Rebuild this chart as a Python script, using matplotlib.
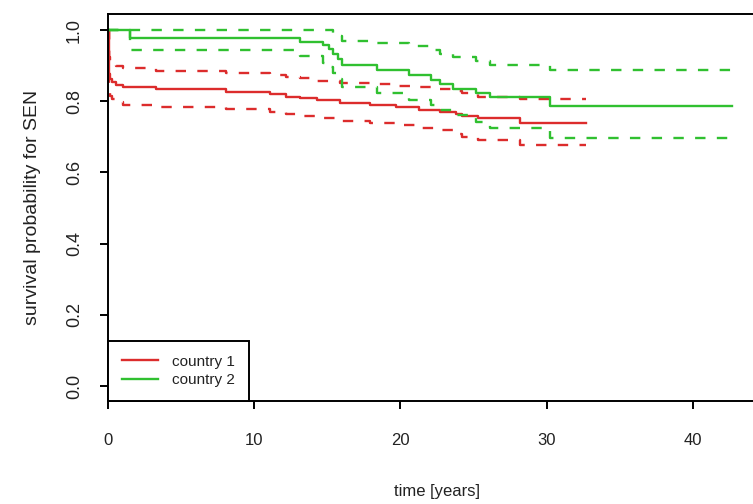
import matplotlib.pyplot as plt

plt.rcParams['font.family'] = ['Liberation Sans', 'DejaVu Sans']

# Kaplan-Meier estimate with confidence band, country 1
t_c1 = [0, 0.07, 0.15, 0.3, 0.55, 1.0, 3.3, 8.1, 11.1, 12.2, 13.1, 14.3, 15.9,
        17.9, 19.7, 21.3, 22.7, 23.8, 24.2, 25.3, 28.2]
s_c1 = [1.0, 0.876, 0.862, 0.853, 0.846, 0.839, 0.834, 0.827, 0.819, 0.813, 0.808,
        0.803, 0.796, 0.789, 0.783, 0.775, 0.771, 0.763, 0.758, 0.752, 0.740]
hi_c1 = [1.0, 0.923, 0.910, 0.904, 0.898, 0.892, 0.886, 0.880, 0.874, 0.869, 0.864,
         0.858, 0.850, 0.847, 0.844, 0.840, 0.835, 0.829, 0.822, 0.813, 0.805]
lo_c1 = [1.0, 0.830, 0.815, 0.805, 0.798, 0.789, 0.785, 0.777, 0.771, 0.765, 0.758,
         0.752, 0.745, 0.740, 0.733, 0.726, 0.718, 0.708, 0.700, 0.691, 0.677]
end_c1 = 32.7

# country 2
t_c2 = [0, 1.5, 13.1, 14.7, 15.1, 15.4, 15.7, 16.0, 18.4, 20.6, 22.1, 22.7, 23.6,
        25.2, 26.1, 30.2]
s_c2 = [1.0, 0.977, 0.967, 0.958, 0.948, 0.934, 0.920, 0.902, 0.888, 0.874, 0.860,
        0.848, 0.833, 0.822, 0.811, 0.787]
hi_c2 = [1.0, 1.0, 1.0, 1.0, 1.0, 0.990, 0.982, 0.970, 0.963, 0.955, 0.944, 0.934,
         0.923, 0.913, 0.902, 0.888]
lo_c2 = [1.0, 0.944, 0.928, 0.906, 0.895, 0.878, 0.862, 0.840, 0.822, 0.803, 0.789,
         0.775, 0.760, 0.743, 0.726, 0.696]
end_c2 = 42.7

red = '#dc2c2c'
green = '#30c030'

fig = plt.figure(figsize=(7.53, 5.04), dpi=100)
ax = fig.add_axes([108 / 753, 1 - 401 / 504, 658 / 753, 387 / 504])


def km_step(t, v, end, color, dashed=False, label=None):
    ts = list(t) + [end]
    vs = list(v) + [v[-1]]
    line, = ax.step(ts, vs, where='post', color=color, lw=1.7, label=label)
    if dashed:
        line.set_dashes((4.4, 4.8))
    return line


for t, s, hi, lo, end, col, lab in [
        (t_c1, s_c1, hi_c1, lo_c1, end_c1, red, 'country 1'),
        (t_c2, s_c2, hi_c2, lo_c2, end_c2, green, 'country 2')]:
    km_step(t, s, end, col, label=lab)
    km_step(t, hi, end, col, dashed=True)
    km_step(t, lo, end, col, dashed=True)

ax.set_xlim(0, 45)
ax.set_ylim(-0.042, 1.045)
ax.set_xticks([0, 10, 20, 30, 40])
ax.set_yticks([0.0, 0.2, 0.4, 0.6, 0.8, 1.0])
ax.set_yticklabels(['0.0', '0.2', '0.4', '0.6', '0.8', '1.0'], rotation=90, va='center')

for sp in ax.spines.values():
    sp.set_linewidth(1.4)
ax.tick_params(direction='out', length=6, width=1.4, colors='black', labelcolor='#222222')
ax.tick_params(axis='x', labelsize=12, pad=17)
ax.tick_params(axis='y', labelsize=13, pad=12)

ax.set_xlabel('time [years]', fontsize=12, color='#222222', labelpad=26)
ax.set_ylabel('survival probability for SEN', fontsize=14, color='#222222', labelpad=18)

leg = ax.legend(loc='lower left', borderaxespad=0, fancybox=False, edgecolor='black',
                framealpha=1, fontsize=11, handlelength=2.4, handletextpad=0.9,
                labelspacing=0.3, borderpad=0.9)
leg.get_frame().set_linewidth(1.4)
for txt in leg.get_texts():
    txt.set_color('#222222')

fig.savefig('out.png', dpi=100)
